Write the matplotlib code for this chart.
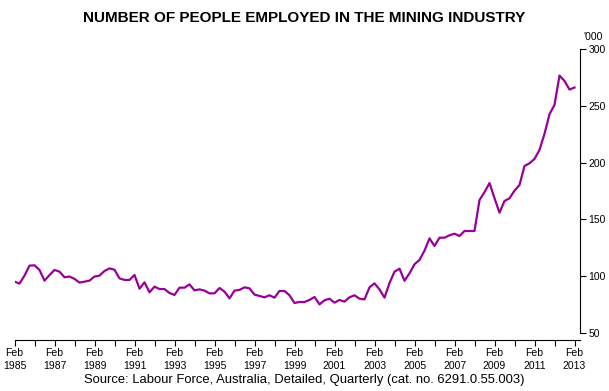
import matplotlib
matplotlib.use('Agg')
import matplotlib.pyplot as plt
import numpy as np

# quarterly employment in mining, '000, Feb 1985 .. Feb 2013
employed = [
    95.2, 93.5, 100.5, 109.3, 109.6, 105.5, 96.1, 101.0, 105.5, 104.0,
    99.1, 99.7, 97.6, 94.4, 95.2, 96.1, 99.7, 100.5, 104.6, 106.9,
    105.7, 98.1, 96.7, 96.7, 101.1, 89.0, 94.6, 85.8, 90.8, 88.7,
    88.7, 85.2, 83.5, 89.9, 89.9, 92.8, 87.5, 88.4, 87.3, 84.9,
    84.9, 89.6, 86.4, 80.5, 87.3, 87.9, 90.2, 89.3, 83.8, 82.6,
    81.4, 83.2, 81.1, 87.0, 87.0, 83.2, 76.4, 77.3, 77.3, 79.1,
    81.7, 75.2, 78.8, 80.2, 76.7, 79.1, 77.6, 81.4, 83.2, 80.2,
    79.6, 90.2, 93.7, 88.4, 81.1, 94.0, 104.0, 106.6, 96.0, 102.5,
    110.5, 114.3, 122.5, 133.3, 126.6, 133.9, 133.9, 136.0, 137.4, 135.4,
    139.8, 139.8, 139.8, 167.0, 174.0, 182.0, 168.7, 155.9, 166.2, 168.6,
    175.3, 180.3, 197.0, 199.4, 203.2, 211.2, 225.3, 242.6, 250.8, 276.6,
    271.9, 264.3, 266.1,
]
years = list(range(1985, 2014))
y_ticks = [50, 100, 150, 200, 250, 300]

fnt = ['Liberation Sans', 'DejaVu Sans']

fig = plt.figure(figsize=(6.09, 3.91), dpi=100)
ax = fig.add_axes([14.5 / 609, 58 / 391, 565.5 / 609, 284 / 391])

q = np.arange(len(employed))
ax.plot(q, employed, color='#990099', lw=1.6)

ax.set_xlim(0, 113.1)
ax.set_ylim(50, 300)

for s in ['top', 'left']:
    ax.spines[s].set_visible(False)
ax.spines['bottom'].set_position(('outward', 5))

ax.yaxis.tick_right()
ax.set_yticks(y_ticks)
ax.set_yticklabels([str(v) for v in y_ticks], family=fnt, fontsize=7.5)
ax.tick_params(axis='y', direction='out', length=4, pad=2)

# a tick every year, a label every second year
ax.set_xticks(np.arange(0, len(employed), 4))
ax.set_xticklabels([f'Feb\n{y}' if (y - 1985) % 2 == 0 else '' for y in years],
                   family=fnt, fontsize=7.5, linespacing=1.35)
ax.tick_params(axis='x', direction='out', length=4, pad=2)

fig.text(0.5, 1 - 18 / 391, 'NUMBER OF PEOPLE EMPLOYED IN THE MINING INDUSTRY',
         ha='center', va='center', fontsize=11, fontweight='bold', family=fnt)
fig.text(583 / 609, 1 - 37 / 391, "'000", ha='left', va='center', fontsize=7.5, family=fnt)
fig.text(0.5, 1 - 380 / 391,
         'Source: Labour Force, Australia, Detailed, Quarterly (cat. no. 6291.0.55.003)',
         ha='center', va='center', fontsize=9.4, family=fnt)

fig.savefig('out.png', dpi=100)
